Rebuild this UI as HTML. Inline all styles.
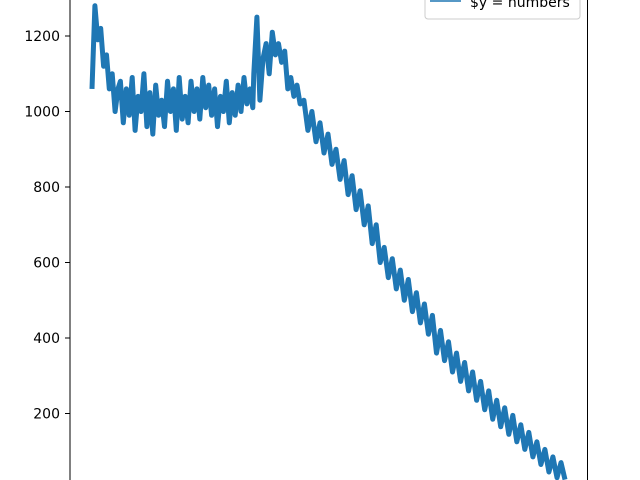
<!DOCTYPE html>
<html><head><meta charset="utf-8"><style>
html,body{margin:0;padding:0;background:#fff;}
svg{display:block;font-family:"DejaVu Sans","Liberation Sans",sans-serif;}
</style></head><body>
<svg id="chart" width="640" height="480" viewBox="0 0 640 480" xmlns="http://www.w3.org/2000/svg">
<rect x="0" y="0" width="640" height="480" fill="#fff"/>
<g id="yticks"></g>
<defs><clipPath id="clip"><rect x="70" y="0" width="517" height="480"/></clipPath></defs>
<g clip-path="url(#clip)"><path id="series" fill="none" stroke="#1f77b4" stroke-width="5" stroke-linejoin="round"/></g>
<line x1="70" y1="0" x2="70" y2="480" stroke="#000" stroke-width="1"/>
<line x1="587.5" y1="0" x2="587.5" y2="480" stroke="#000" stroke-width="1"/>
<g>
<rect x="425" y="-10" width="155" height="29" rx="3" fill="#fff" stroke="#ccc"/>
<line x1="430" y1="1" x2="461" y2="1" stroke="#1f77b4" stroke-width="1.5"/>
<text x="470" y="7" font-size="14" fill="#000">$y = numbers</text>
</g>
</svg>
<script>
// segment sample ranges (data x units, 0..100) and their values
const segStart = [0, 6, 34.2, 44.8];
const segEnd = [5.5, 34, 44, 100];
const seg0 = [1060,1280,1190,1220,1120,1150,1060,1100,1000,1060];
const seg1 = [1080,970,1060,990,1090,950,1040,1000,1100,960,1050,940,1070,990,1030,960,1080,1000,1060,950,1090,980,1040,970,1080,1000,1060,980,1090,1010,1070,990,1060,960,1040,1000,1080,970,1050,990,1070,1000,1090,1020,1060,1010];
const seg2 = [1100,1250,1030,1140,1180,1100,1210,1150,1180,1130,1160,1060,1090,1040,1070,1020];
const seg3 = [1030,950,1000,920,970,890,940,860,900,820,870,780,830,740,790,700,750,650,700,600,640,560,610,530,580,500,555,470,520,440,490,410,460,360,420,340,390,310,360,285,335,260,310,235,285,210,260,185,235,165,215,145,195,125,170,105,150,85,125,65,105,45,85,30,70,25];
const segments = [seg0, seg1, seg2, seg3];
const yTicks = [200,400,600,800,1000,1200];
const yTickLabels = ["200","400","600","800","1000","1200"];
function xs(x){ return 92 + (565 - 92) * x / 100; }
function ys(v){ return 489 - v * 0.3775; }
let d = '';
segments.forEach((seg,s)=>{
  seg.forEach((v,i)=>{
    const x = segStart[s] + (segEnd[s]-segStart[s]) * i / (seg.length-1);
    d += (d? 'L':'M') + xs(x).toFixed(1) + ' ' + ys(v).toFixed(1);
  });
});
document.getElementById('series').setAttribute('d', d);
const g = document.getElementById('yticks');
const NS = 'http://www.w3.org/2000/svg';
yTicks.forEach((t,i)=>{
  const y = ys(t);
  const l = document.createElementNS(NS,'line');
  
  
  l.setAttribute('x1', 65); l.setAttribute('x2', 70);
  l.setAttribute('y1', y); l.setAttribute('y2', y);
  l.setAttribute('stroke', '#000');
  g.appendChild(l);
  const tx = document.createElementNS(NS,'text');
  
  
  tx.setAttribute('x', 60); tx.setAttribute('y', y + 5);
  tx.setAttribute('text-anchor', 'end');
  tx.setAttribute('font-size', '14');
  tx.textContent = yTickLabels[i];
  g.appendChild(tx);
});
</script>
</body></html>
